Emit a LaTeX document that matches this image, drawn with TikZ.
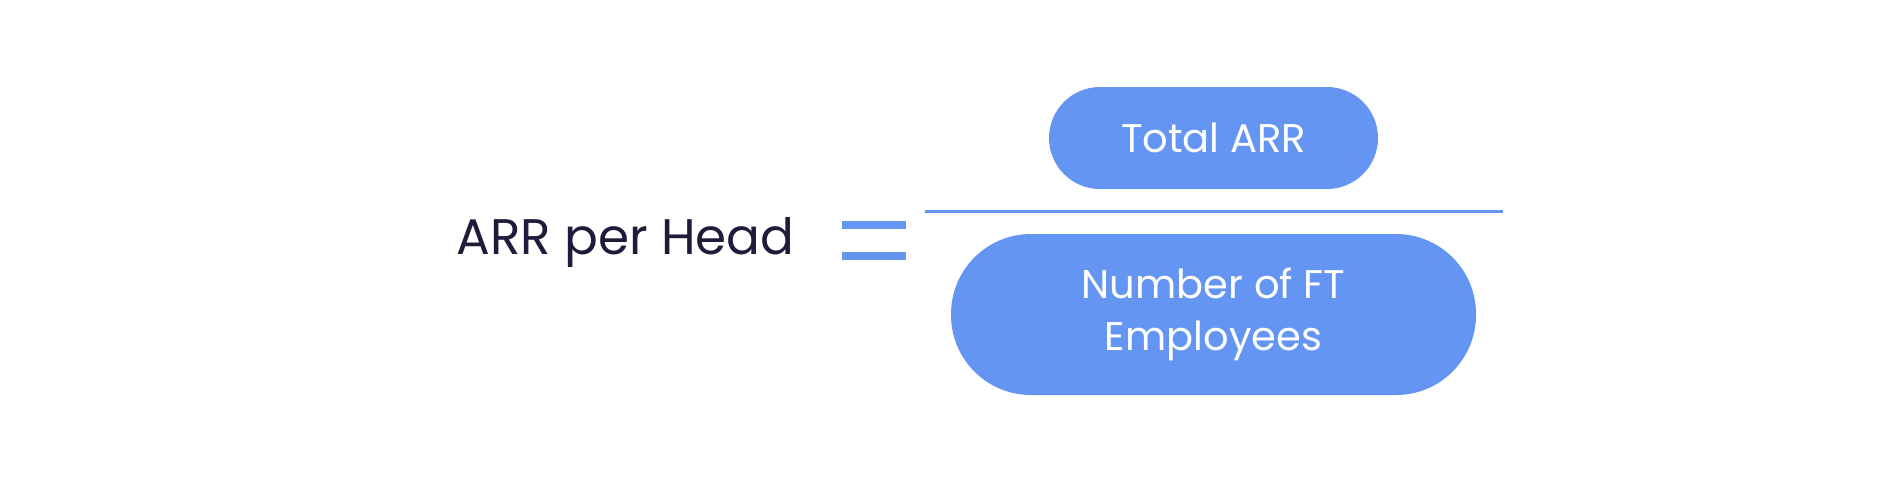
\documentclass[tikz,border=0pt]{standalone}
\usepackage{fontspec}
\setmainfont{Poppins}
\definecolor{pillblue}{HTML}{6495F2}
\definecolor{navy}{HTML}{1E1C3A}
\begin{document}
\begin{tikzpicture}[x=1pt,y=-1pt,
  pill/.style={fill=pillblue,rounded corners=#1,text=white,font=\fontsize{40}{46}\selectfont,align=center}]
\useasboundingbox (0,0) rectangle (1900,482);
\fill[pillblue,rounded corners=51] (1049,87) rectangle (1378,189);
\node[text=white,font=\fontsize{40}{46}\selectfont] (num) at (1213.5,138) {Total ARR};
\fill[pillblue,rounded corners=80] (951,234) rectangle (1476,395);
\node[text=white,font=\fontsize{40}{52}\selectfont,align=center] (den) at (1213.5,314.5) {Number of FT\\Employees};
\draw[pillblue,line width=3] (925,211) -- (1503,211);
\node[text=navy,font=\fontsize{50}{58}\selectfont,anchor=east] (lhs) at (798,242) {ARR per Head};
\draw[pillblue,line width=8] (842,225) -- (906,225) (842,256) -- (906,256);
\end{tikzpicture}
\end{document}
